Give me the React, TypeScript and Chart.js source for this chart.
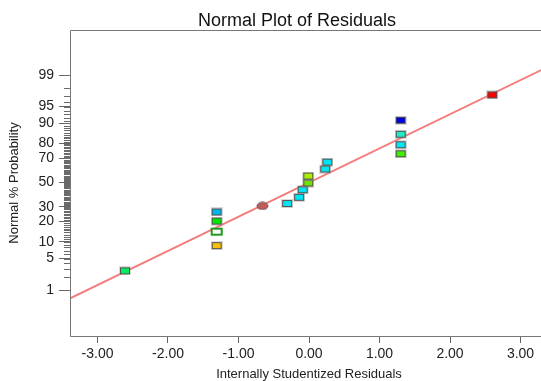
import React, { useEffect, useRef } from "react";
import { Chart, registerables } from "chart.js";

Chart.register(...registerables);

const TITLE = "Normal Plot of Residuals";
const X_TITLE = "Internally Studentized Residuals";
const Y_TITLE = "Normal % Probability";

const xTicks = [-3, -2, -1, 0, 1, 2, 3];
const yTickPercents = [1, 5, 10, 20, 30, 50, 70, 80, 90, 95, 99];
const minorTickPercents = Array.from({ length: 99 }, (_, i) => i + 1);

// residuals (x) and normal % probability (y)
const residuals = [-2.61, -1.31, -1.31, -1.31, -1.31, -0.66, -0.31, -0.14, -0.09, -0.01, -0.01, 0.23, 0.26, 1.3, 1.3, 1.3, 1.3, 2.6];
const probabilities = [2.8, 8.6, 14.4, 20.2, 26.2, 30.6, 32.5, 37.5, 43.8, 49.6, 55.6, 61.5, 67.1, 73.3, 79.3, 85.2, 91.1, 97.1];
const pointColors = [
  "#00f060", "#f8c000", "#ffffff", "#00e800", "#00b4f0", "#c05c5c",
  "#00e4f4", "#00e4f4", "#00e4f4", "#70e000", "#a8f000", "#00e4f4",
  "#00e4f4", "#40ee00", "#00e8f8", "#20ecc4", "#0000e0", "#ff0000",
];
const pointKinds = [
  "rect", "rect", "hollow", "rect", "rect", "ellipse",
  "rect", "rect", "rect", "rect", "rect", "rect",
  "rect", "rect", "rect", "rect", "rect", "rect",
];

// fitted reference line
const lineX = [-3.4, 3.4];
const lineProb = [0.6, 99.4];

function probit(p: number): number {
  const a = [-3.969683028665376e1, 2.209460984245205e2, -2.759285104469687e2, 1.38357751867269e2, -3.066479806614716e1, 2.506628277459239];
  const b = [-5.447609879822406e1, 1.615858368580409e2, -1.556989798598866e2, 6.680131188771972e1, -1.328068155288572e1];
  const c = [-7.784894002430293e-3, -3.223964580411365e-1, -2.400758277161838, -2.549732539343734, 4.374664141464968, 2.938163982698783];
  const d = [7.784695709041462e-3, 3.224671290700398e-1, 2.445134137142996, 3.754408661907416];
  const pl = 0.02425;
  if (p < pl) {
    const q = Math.sqrt(-2 * Math.log(p));
    return (((((c[0] * q + c[1]) * q + c[2]) * q + c[3]) * q + c[4]) * q + c[5]) / ((((d[0] * q + d[1]) * q + d[2]) * q + d[3]) * q + 1);
  }
  if (p <= 1 - pl) {
    const q = p - 0.5;
    const r = q * q;
    return ((((((a[0] * r + a[1]) * r + a[2]) * r + a[3]) * r + a[4]) * r + a[5]) * q) / (((((b[0] * r + b[1]) * r + b[2]) * r + b[3]) * r + b[4]) * r + 1);
  }
  const q = Math.sqrt(-2 * Math.log(1 - p));
  return -(((((c[0] * q + c[1]) * q + c[2]) * q + c[3]) * q + c[4]) * q + c[5]) / ((((d[0] * q + d[1]) * q + d[2]) * q + d[3]) * q + 1);
}

function makeMarker(kind: string, color: string): HTMLCanvasElement {
  const cv = document.createElement("canvas");
  if (kind === "hollow") {
    cv.width = 14;
    cv.height = 10;
    const g = cv.getContext("2d")!;
    g.fillStyle = "#ffffff";
    g.fillRect(1, 1, 12, 8);
    g.strokeStyle = "#1e9a1e";
    g.lineWidth = 2;
    g.strokeRect(2, 2, 10, 6);
    return cv;
  }
  if (kind === "ellipse") {
    cv.width = 13;
    cv.height = 9;
    const g = cv.getContext("2d")!;
    g.beginPath();
    g.ellipse(6.5, 4.5, 5.5, 3.6, 0, 0, Math.PI * 2);
    g.fillStyle = color;
    g.fill();
    g.strokeStyle = "#6a4a4a";
    g.lineWidth = 1;
    g.stroke();
    return cv;
  }
  cv.width = 12;
  cv.height = 9;
  const g = cv.getContext("2d")!;
  g.fillStyle = "rgba(150,150,150,0.35)";
  g.fillRect(0, 0, 12, 9);
  g.fillStyle = color;
  g.fillRect(1, 1, 10, 7);
  g.strokeStyle = "#505050";
  g.lineWidth = 1;
  g.strokeRect(1.5, 1.5, 9, 6);
  return cv;
}

const decorPlugin = {
  id: "decor",
  afterDraw(chart: any) {
    const { ctx, chartArea } = chart;
    const { left, top, right, bottom } = chartArea;
    const yScale = chart.scales.y;
    ctx.save();
    // minor ticks on y axis
    ctx.strokeStyle = "#6a6a6a";
    ctx.lineWidth = 1;
    ctx.beginPath();
    for (const p of minorTickPercents) {
      const y = Math.round(yScale.getPixelForValue(probit(p / 100))) + 0.5;
      ctx.moveTo(left - 6, y);
      ctx.lineTo(left, y);
    }
    ctx.stroke();
    // frame
    ctx.strokeStyle = "#777777";
    ctx.beginPath();
    ctx.rect(Math.round(left) + 0.5, Math.round(top) + 0.5, Math.round(right - left), Math.round(bottom - top));
    ctx.stroke();
    // title
    ctx.fillStyle = "#111111";
    ctx.font = "18px Arial, 'Liberation Sans', sans-serif";
    ctx.textAlign = "center";
    ctx.textBaseline = "alphabetic";
    ctx.fillText(TITLE, 297, 26);
    ctx.restore();
  },
  beforeDraw(chart: any) {
    const { ctx, width, height } = chart;
    ctx.save();
    ctx.fillStyle = "#ffffff";
    ctx.fillRect(0, 0, width, height);
    ctx.restore();
  },
};

export default function App() {
  const ref = useRef<HTMLCanvasElement | null>(null);

  useEffect(() => {
    if (!ref.current) return;
    const markers = pointKinds.map((k, i) => makeMarker(k, pointColors[i]));
    const points = residuals.map((x, i) => ({ x, y: probit(probabilities[i] / 100) }));
    const line = lineX.map((x, i) => ({ x, y: probit(lineProb[i] / 100) }));
    const font = "Arial, 'Liberation Sans', sans-serif";

    const chart = new Chart(ref.current, {
      type: "scatter",
      data: {
        datasets: [
          {
            label: "Residuals",
            data: points,
            pointStyle: markers as any,
            pointRadius: 5,
            pointHoverRadius: 5,
          },
          {
            type: "line",
            label: "Fit",
            data: line,
            borderColor: "#f47c7c",
            borderWidth: 2,
            pointRadius: 0,
            fill: false,
          } as any,
        ],
      },
      options: {
        animation: false,
        responsive: false,
        devicePixelRatio: 1,
        layout: { padding: { top: 30, right: 12, left: 0, bottom: 0 } },
        plugins: {
          legend: { display: false },
          tooltip: { enabled: false },
          title: { display: false },
        },
        scales: {
          x: {
            type: "linear",
            min: -3.39,
            max: 3.39,
            afterBuildTicks: (s: any) => {
              s.ticks = xTicks.map((v) => ({ value: v }));
            },
            afterFit: (s: any) => {
              s.height = 45;
            },
            ticks: {
              autoSkip: false,
              maxRotation: 0,
              padding: 3,
              color: "#222222",
              font: { family: font, size: 14 },
              callback: (v: any) => Number(v).toFixed(2),
            },
            grid: { drawOnChartArea: false, drawTicks: true, tickLength: 7, color: "#666666" },
            border: { display: false },
            title: {
              display: true,
              text: X_TITLE,
              color: "#222222",
              font: { family: font, size: 13, lineHeight: 1 },
              padding: { top: 0, bottom: 0 },
            },
          },
          y: {
            type: "linear",
            min: -3.32,
            max: 3.3,
            afterBuildTicks: (s: any) => {
              s.ticks = yTickPercents.map((p) => ({ value: probit(p / 100) }));
            },
            afterFit: (s: any) => {
              s.width = 70;
            },
            ticks: {
              autoSkip: false,
              padding: 5,
              color: "#222222",
              font: { family: font, size: 14 },
              callback: (_v: any, i: number) => String(yTickPercents[i]),
            },
            grid: { drawOnChartArea: false, drawTicks: true, tickLength: 11, color: "#666666" },
            border: { display: false },
            title: {
              display: true,
              text: Y_TITLE,
              color: "#222222",
              font: { family: font, size: 13, lineHeight: 1.2 },
              padding: { top: 7, bottom: 0 },
            },
          },
        },
      },
      plugins: [decorPlugin],
    });
    return () => chart.destroy();
  }, []);

  return (
    <div style={{ position: "absolute", left: 0, top: 0, width: 541, height: 381, overflow: "hidden", background: "#ffffff" }}>
      <canvas ref={ref} width={560} height={381} style={{ display: "block" }} />
    </div>
  );
}
